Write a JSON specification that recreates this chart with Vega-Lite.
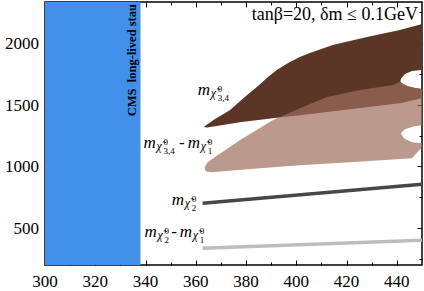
{
  "$schema": "https://vega.github.io/schema/vega-lite/v6.json",
  "autosize": {"type": "none"},
  "width": 377,
  "height": 263,
  "padding": {"left": 45, "top": 2, "right": 2, "bottom": 26},
  "background": "white",
  "config": {
    "view": {"stroke": "#000", "strokeWidth": 1.5},
    "axis": {"tickColor": "#000", "domain": false, "grid": false, "labels": false, "title": null}
  },
  "datasets": {
    "cms": [{"x": 300, "x2": 338, "y": 200, "y2": 2335}],
    "D": [
      {"i": 1, "x": 363.5, "y": 1327}, {"i": 2, "x": 367.5, "y": 1384}, {"i": 3, "x": 373.5, "y": 1457},
      {"i": 4, "x": 379.5, "y": 1563}, {"i": 5, "x": 384.3, "y": 1644}, {"i": 6, "x": 388.6, "y": 1725},
      {"i": 7, "x": 392.2, "y": 1782}, {"i": 8, "x": 397.4, "y": 1847}, {"i": 9, "x": 401.4, "y": 1888},
      {"i": 10, "x": 405.4, "y": 1920}, {"i": 11, "x": 414.5, "y": 1985}, {"i": 12, "x": 428.1, "y": 2050},
      {"i": 13, "x": 441.2, "y": 2107}, {"i": 14, "x": 450, "y": 2156}, {"i": 15, "x": 450, "y": 1782},
      {"i": 16, "x": 446, "y": 1774}, {"i": 17, "x": 443.2, "y": 1750}, {"i": 18, "x": 441.6, "y": 1712},
      {"i": 19, "x": 441.4, "y": 1688}, {"i": 20, "x": 442.6, "y": 1668}, {"i": 21, "x": 444.4, "y": 1652},
      {"i": 22, "x": 447.2, "y": 1636}, {"i": 23, "x": 450, "y": 1628}, {"i": 24, "x": 450, "y": 1554},
      {"i": 25, "x": 441.2, "y": 1514}, {"i": 26, "x": 421.3, "y": 1465}, {"i": 27, "x": 401.4, "y": 1416},
      {"i": 28, "x": 390.6, "y": 1392}, {"i": 29, "x": 377.5, "y": 1359}, {"i": 30, "x": 364.5, "y": 1316},
      {"i": 31, "x": 363.2, "y": 1320}
    ],
    "L": [
      {"i": 1, "x": 363.5, "y": 993}, {"i": 2, "x": 364.7, "y": 1034}, {"i": 3, "x": 367.5, "y": 1075},
      {"i": 4, "x": 377.5, "y": 1213}, {"i": 5, "x": 390.6, "y": 1376}, {"i": 6, "x": 401.4, "y": 1473},
      {"i": 7, "x": 412.2, "y": 1563}, {"i": 8, "x": 425.3, "y": 1620}, {"i": 9, "x": 438.5, "y": 1662},
      {"i": 10, "x": 441.4, "y": 1688}, {"i": 11, "x": 442.6, "y": 1668}, {"i": 12, "x": 444.4, "y": 1652},
      {"i": 13, "x": 447.2, "y": 1636}, {"i": 14, "x": 450, "y": 1628}, {"i": 15, "x": 450, "y": 1335},
      {"i": 16, "x": 446.8, "y": 1327}, {"i": 17, "x": 443.2, "y": 1302}, {"i": 18, "x": 441.6, "y": 1270},
      {"i": 19, "x": 442.8, "y": 1229}, {"i": 20, "x": 446, "y": 1197}, {"i": 21, "x": 450, "y": 1189},
      {"i": 22, "x": 450, "y": 1156}, {"i": 23, "x": 446, "y": 1067}, {"i": 24, "x": 421.3, "y": 1034},
      {"i": 25, "x": 401.4, "y": 1010}, {"i": 26, "x": 385.5, "y": 985}, {"i": 27, "x": 366.3, "y": 953},
      {"i": 28, "x": 363.9, "y": 961}
    ],
    "lines": [
      {"s": "chi2", "x": 362.7, "y": 702}, {"s": "chi2", "x": 450, "y": 856},
      {"s": "diff", "x": 362.7, "y": 335}, {"s": "diff", "x": 450, "y": 400}
    ],
    "terms": [
      {"x": 360.8, "y": 1579, "sub": "3,4"},
      {"x": 339.2, "y": 1148, "sub": "3,4"},
      {"x": 356.8, "y": 1148, "sub": "1"},
      {"x": 350.4, "y": 685, "sub": "2"},
      {"x": 339.6, "y": 424, "sub": "2"},
      {"x": 353.6, "y": 424, "sub": "1"}
    ],
    "dashes": [{"x": 354.4, "y": 1148}, {"x": 351.4, "y": 424}],
    "notes": [
      {"x": 448.4, "y": 2189, "t": "tanβ=20, δm ≤ 0.1GeV"}
    ],
    "cmsText": [{"x": 334.7, "y": 1863, "t": "CMS\u00a0 long-lived stau"}],
    "xticks": [
      {"v": 300, "base": 200}, {"v": 320, "base": 200}, {"v": 340, "base": 200}, {"v": 360, "base": 200},
      {"v": 380, "base": 200}, {"v": 400, "base": 200}, {"v": 420, "base": 200}, {"v": 440, "base": 200}
    ],
    "yticks": [
      {"v": 500, "base": 300}, {"v": 1000, "base": 300}, {"v": 1500, "base": 300}, {"v": 2000, "base": 300}
    ]
  },
  "resolve": {"axis": {"x": "independent", "y": "independent"}},
  "layer": [
    {
      "data": {"name": "cms"},
      "mark": {"type": "rect", "color": "#4191EB"},
      "encoding": {
        "x": {"field": "x", "type": "quantitative", "scale": {"domain": [300, 450], "nice": false, "zero": false},
          "axis": {"orient": "bottom", "values": [300, 320, 340, 360, 380, 400, 420, 440], "tickSize": -5, "tickWidth": 1, "labels": false, "title": null}},
        "x2": {"field": "x2"},
        "y": {"field": "y", "type": "quantitative", "scale": {"domain": [200, 2335], "nice": false, "zero": false},
          "axis": {"orient": "left", "values": [500, 1000, 1500, 2000], "tickSize": -5, "tickWidth": 1, "labels": false, "title": null}},
        "y2": {"field": "y2"}
      }
    },
    {
      "data": {"name": "D"},
      "mark": {"type": "line", "filled": true, "interpolate": "linear-closed", "color": "#5B3526", "clip": true},
      "encoding": {
        "x": {"field": "x", "type": "quantitative",
          "axis": {"orient": "bottom", "values": [310, 330, 350, 370, 390, 410, 430], "tickSize": -3, "labels": false, "title": null}},
        "y": {"field": "y", "type": "quantitative",
          "axis": {"orient": "left", "values": [250, 750, 1250, 1750, 2250], "tickSize": -3, "labels": false, "title": null}},
        "order": {"field": "i", "type": "quantitative"}
      }
    },
    {
      "data": {"name": "L"},
      "mark": {"type": "line", "filled": true, "interpolate": "linear-closed", "color": "#9E6D5B", "opacity": 0.7, "clip": true},
      "encoding": {
        "x": {"field": "x", "type": "quantitative",
          "axis": {"orient": "top", "values": [300, 320, 340, 360, 380, 400, 420, 440], "tickSize": -5, "labels": false, "title": null}},
        "y": {"field": "y", "type": "quantitative",
          "axis": {"orient": "right", "values": [500, 1000, 1500, 2000], "tickSize": -5, "labels": false, "title": null}},
        "order": {"field": "i", "type": "quantitative"}
      }
    },
    {
      "data": {"name": "lines"},
      "mark": {"type": "line", "strokeWidth": 3.5, "clip": true},
      "encoding": {
        "x": {"field": "x", "type": "quantitative",
          "axis": {"orient": "top", "values": [310, 330, 350, 370, 390, 410, 430], "tickSize": -3, "labels": false, "title": null}},
        "y": {"field": "y", "type": "quantitative",
          "axis": {"orient": "right", "values": [250, 750, 1250, 1750, 2250], "tickSize": -3, "labels": false, "title": null}},
        "color": {"field": "s", "type": "nominal", "scale": {"domain": ["chi2", "diff"], "range": ["#474747", "#BDBDBD"]}, "legend": null}
      }
    },
    {
      "data": {"name": "xticks"},
      "mark": {"type": "text", "font": "Liberation Serif", "fontSize": 17, "align": "center", "baseline": "alphabetic", "dy": 22, "color": "#000"},
      "encoding": {
        "x": {"field": "v", "type": "quantitative", "axis": null},
        "y": {"field": "base", "type": "quantitative", "axis": null},
        "text": {"field": "v", "type": "quantitative", "format": "d"}
      }
    },
    {
      "data": {"name": "yticks"},
      "mark": {"type": "text", "font": "Liberation Serif", "fontSize": 17, "align": "right", "baseline": "middle", "dx": -6, "dy": 1, "color": "#000"},
      "encoding": {
        "x": {"field": "base", "type": "quantitative", "axis": null},
        "y": {"field": "v", "type": "quantitative", "axis": null},
        "text": {"field": "v", "type": "quantitative", "format": "d"}
      }
    },
    {
      "data": {"name": "terms"},
      "mark": {"type": "text", "text": "m", "font": "Liberation Serif", "fontStyle": "italic", "fontSize": 17, "align": "left", "baseline": "alphabetic", "color": "#000"},
      "encoding": {
        "x": {"field": "x", "type": "quantitative", "axis": null},
        "y": {"field": "y", "type": "quantitative", "axis": null}
      }
    },
    {
      "data": {"name": "terms"},
      "mark": {"type": "text", "text": "χ̃", "font": "Liberation Serif", "fontStyle": "italic", "fontSize": 12, "align": "left", "baseline": "alphabetic", "dx": 13, "dy": 2, "color": "#000"},
      "encoding": {
        "x": {"field": "x", "type": "quantitative", "axis": null},
        "y": {"field": "y", "type": "quantitative", "axis": null}
      }
    },
    {
      "data": {"name": "terms"},
      "mark": {"type": "text", "text": "0", "font": "Liberation Serif", "fontSize": 9, "align": "left", "baseline": "alphabetic", "dx": 20, "dy": -3, "color": "#000"},
      "encoding": {
        "x": {"field": "x", "type": "quantitative", "axis": null},
        "y": {"field": "y", "type": "quantitative", "axis": null}
      }
    },
    {
      "data": {"name": "terms"},
      "mark": {"type": "text", "font": "Liberation Serif", "fontSize": 9, "align": "left", "baseline": "alphabetic", "dx": 20, "dy": 6, "color": "#000"},
      "encoding": {
        "x": {"field": "x", "type": "quantitative", "axis": null},
        "y": {"field": "y", "type": "quantitative", "axis": null},
        "text": {"field": "sub"}
      }
    },
    {
      "data": {"name": "dashes"},
      "mark": {"type": "text", "text": "-", "font": "Liberation Serif", "fontSize": 17, "align": "center", "baseline": "alphabetic", "color": "#000"},
      "encoding": {
        "x": {"field": "x", "type": "quantitative", "axis": null},
        "y": {"field": "y", "type": "quantitative", "axis": null}
      }
    },
    {
      "data": {"name": "notes"},
      "mark": {"type": "text", "font": "Liberation Serif", "fontSize": 18, "align": "right", "baseline": "alphabetic", "color": "#000"},
      "encoding": {
        "x": {"field": "x", "type": "quantitative", "axis": null},
        "y": {"field": "y", "type": "quantitative", "axis": null},
        "text": {"field": "t"}
      }
    },
    {
      "data": {"name": "cmsText"},
      "mark": {"type": "text", "font": "Liberation Serif", "fontWeight": "bold", "fontSize": 12.5, "angle": 270, "align": "center", "baseline": "middle", "color": "#000"},
      "encoding": {
        "x": {"field": "x", "type": "quantitative", "axis": null},
        "y": {"field": "y", "type": "quantitative", "axis": null},
        "text": {"field": "t"}
      }
    }
  ]
}
